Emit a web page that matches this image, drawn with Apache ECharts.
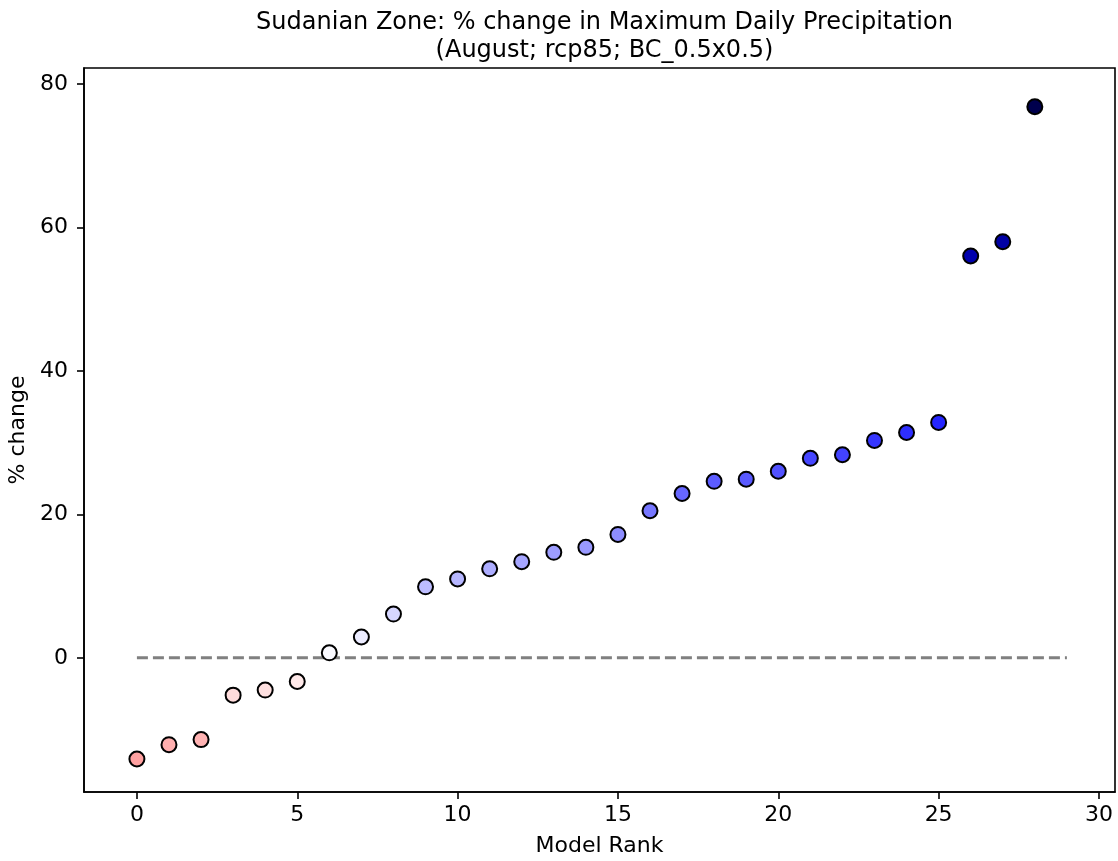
<!DOCTYPE html>
<html>
<head>
<meta charset="utf-8">
<script src="https://cdn.jsdelivr.net/npm/echarts@6/dist/echarts.min.js"></script>
<style>
html,body{margin:0;padding:0;background:#fff;}
#chart{width:1118px;height:861px;}
</style>
</head>
<body>
<div id="chart"></div>
<script>
// Data
const titleLines = ["Sudanian Zone: % change in Maximum Daily Precipitation", "(August; rcp85; BC_0.5x0.5)"];
const xAxisName = "Model Rank";
const yAxisName = "% change";
const modelRank = [0,1,2,3,4,5,6,7,8,9,10,11,12,13,14,15,16,17,18,19,20,21,22,23,24,25,26,27,28];
const pctChange = [-14.1,-12.1,-11.4,-5.2,-4.5,-3.3,0.7,2.9,6.1,9.9,11.0,12.4,13.4,14.7,15.4,17.2,20.5,22.9,24.6,24.9,26.0,27.8,28.3,30.3,31.4,32.8,56.0,58.0,76.8];
const xTicks = [0,5,10,15,20,25,30];
const yTicks = [0,20,40,60,80];
const zeroLineX = [0, modelRank.length];

const chart = echarts.init(document.getElementById('chart'), null, {renderer:'canvas'});
const font = "DejaVu Sans";
const vmax = Math.max(...pctChange.map(Math.abs));
const points = modelRank.map((r,i)=>[r,pctChange[i]]);

chart.setOption({
  animation:false,
  backgroundColor:'#ffffff',
  textStyle:{fontFamily:font},
  title:{
    text: titleLines.join('\n'),
    left: 599.5, textAlign:'center', top: 4,
    textStyle:{fontFamily:font, fontSize:24, fontWeight:'normal', color:'#000', lineHeight:28}
  },
  grid:{left:84, right:3, top:68, bottom:69, containLabel:false, outerBoundsMode:'none'},
  visualMap:{
    show:false, type:'continuous', seriesIndex:1, dimension:1,
    min:-vmax, max:vmax,
    inRange:{color:['#800000','#ff0000','#ffffff','#0000ff','#00004d']}
  },
  xAxis:{
    type:'value', min:-1.65, max:30.5,
    name:xAxisName, nameLocation:'middle', nameGap:43,
    nameTextStyle:{fontFamily:font, fontSize:22, color:'#000'},
    axisLine:{show:true, onZero:false, lineStyle:{color:'#000', width:1.6}},
    axisTick:{show:true, inside:false, length:7, lineStyle:{color:'#000', width:1.6}, customValues:xTicks},
    axisLabel:{fontFamily:font, fontSize:22, color:'#000', margin:12, customValues:xTicks},
    splitLine:{show:false}
  },
  yAxis:{
    type:'value', min:-18.7, max:82.2,
    name:yAxisName, nameLocation:'middle', nameGap:51, nameRotate:90,
    nameTextStyle:{fontFamily:font, fontSize:22, color:'#000'},
    axisLine:{show:true, onZero:false, lineStyle:{color:'#000', width:1.6}},
    axisTick:{show:true, inside:false, length:7, lineStyle:{color:'#000', width:1.6}, customValues:yTicks},
    axisLabel:{fontFamily:font, fontSize:22, color:'#000', margin:16, customValues:yTicks},
    splitLine:{show:false}
  },
  graphic:[{
    type:'rect', silent:true, z:100,
    shape:{x:84, y:68, width:1031, height:724},
    style:{fill:'none', stroke:'#000', lineWidth:1.6}
  }],
  series:[
    {
      type:'line', data:zeroLineX.map(x=>[x,0]), symbol:'none', silent:true, z:1,
      lineStyle:{color:'#808080', width:3, type:[11,5]}
    },
    {
      type:'scatter', data:points, symbolSize:15, z:3,
      itemStyle:{borderColor:'#000', borderWidth:2, opacity:1}
    }
  ]
});
</script>
</body>
</html>
